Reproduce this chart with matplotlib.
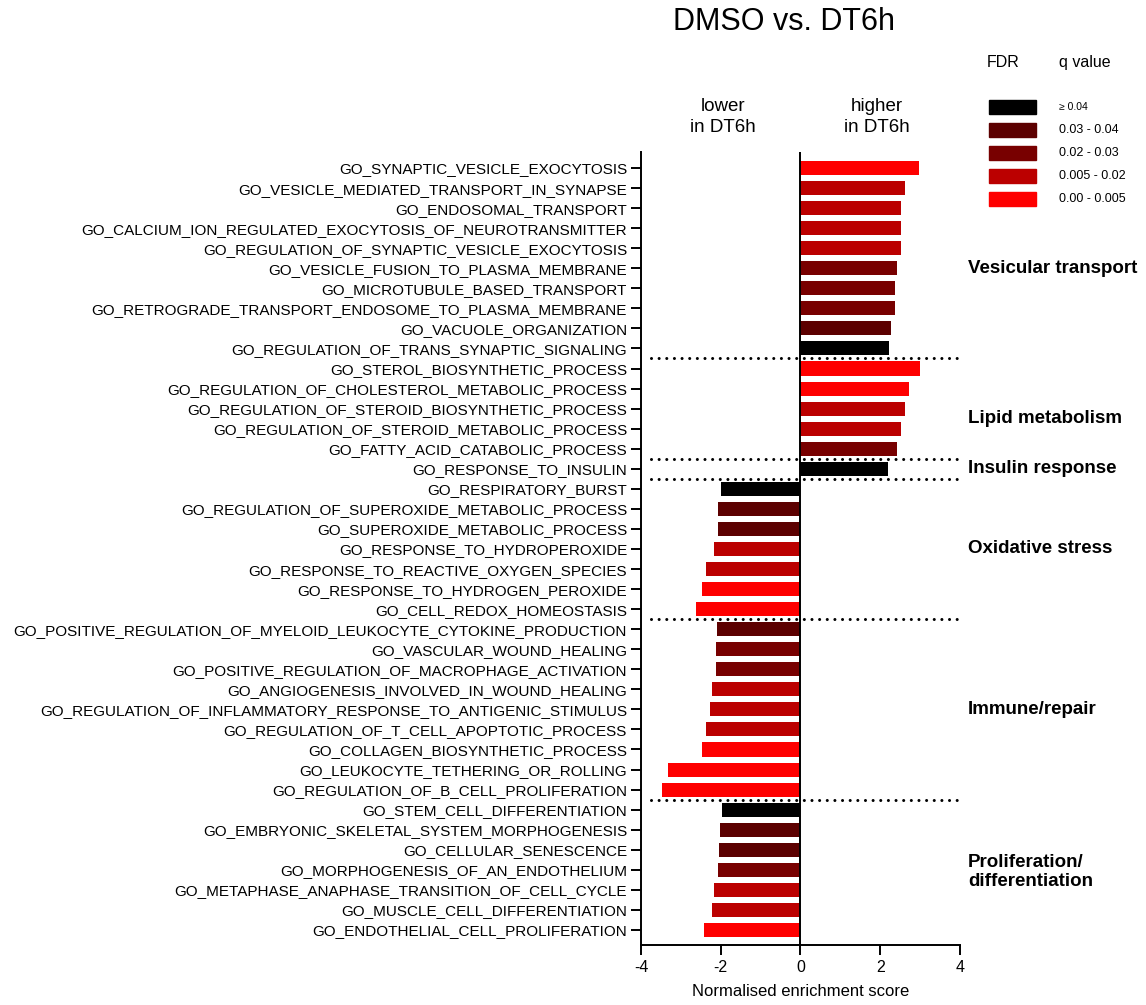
import matplotlib
matplotlib.use("Agg")
import matplotlib.pyplot as plt
from matplotlib.patches import Rectangle

plt.rcParams["font.family"] = ["Liberation Sans", "DejaVu Sans"]
plt.rcParams["axes.unicode_minus"] = False

terms = [
    "GO_SYNAPTIC_VESICLE_EXOCYTOSIS",
    "GO_VESICLE_MEDIATED_TRANSPORT_IN_SYNAPSE",
    "GO_ENDOSOMAL_TRANSPORT",
    "GO_CALCIUM_ION_REGULATED_EXOCYTOSIS_OF_NEUROTRANSMITTER",
    "GO_REGULATION_OF_SYNAPTIC_VESICLE_EXOCYTOSIS",
    "GO_VESICLE_FUSION_TO_PLASMA_MEMBRANE",
    "GO_MICROTUBULE_BASED_TRANSPORT",
    "GO_RETROGRADE_TRANSPORT_ENDOSOME_TO_PLASMA_MEMBRANE",
    "GO_VACUOLE_ORGANIZATION",
    "GO_REGULATION_OF_TRANS_SYNAPTIC_SIGNALING",
    "GO_STEROL_BIOSYNTHETIC_PROCESS",
    "GO_REGULATION_OF_CHOLESTEROL_METABOLIC_PROCESS",
    "GO_REGULATION_OF_STEROID_BIOSYNTHETIC_PROCESS",
    "GO_REGULATION_OF_STEROID_METABOLIC_PROCESS",
    "GO_FATTY_ACID_CATABOLIC_PROCESS",
    "GO_RESPONSE_TO_INSULIN",
    "GO_RESPIRATORY_BURST",
    "GO_REGULATION_OF_SUPEROXIDE_METABOLIC_PROCESS",
    "GO_SUPEROXIDE_METABOLIC_PROCESS",
    "GO_RESPONSE_TO_HYDROPEROXIDE",
    "GO_RESPONSE_TO_REACTIVE_OXYGEN_SPECIES",
    "GO_RESPONSE_TO_HYDROGEN_PEROXIDE",
    "GO_CELL_REDOX_HOMEOSTASIS",
    "GO_POSITIVE_REGULATION_OF_MYELOID_LEUKOCYTE_CYTOKINE_PRODUCTION",
    "GO_VASCULAR_WOUND_HEALING",
    "GO_POSITIVE_REGULATION_OF_MACROPHAGE_ACTIVATION",
    "GO_ANGIOGENESIS_INVOLVED_IN_WOUND_HEALING",
    "GO_REGULATION_OF_INFLAMMATORY_RESPONSE_TO_ANTIGENIC_STIMULUS",
    "GO_REGULATION_OF_T_CELL_APOPTOTIC_PROCESS",
    "GO_COLLAGEN_BIOSYNTHETIC_PROCESS",
    "GO_LEUKOCYTE_TETHERING_OR_ROLLING",
    "GO_REGULATION_OF_B_CELL_PROLIFERATION",
    "GO_STEM_CELL_DIFFERENTIATION",
    "GO_EMBRYONIC_SKELETAL_SYSTEM_MORPHOGENESIS",
    "GO_CELLULAR_SENESCENCE",
    "GO_MORPHOGENESIS_OF_AN_ENDOTHELIUM",
    "GO_METAPHASE_ANAPHASE_TRANSITION_OF_CELL_CYCLE",
    "GO_MUSCLE_CELL_DIFFERENTIATION",
    "GO_ENDOTHELIAL_CELL_PROLIFERATION",
]

nes = [2.98, 2.63, 2.53, 2.51, 2.51, 2.41, 2.38, 2.36, 2.28, 2.23,
       3.00, 2.71, 2.63, 2.53, 2.41, 2.20,
       -2.00, -2.06, -2.07, -2.18, -2.38, -2.48, -2.63,
       -2.10, -2.11, -2.13, -2.23, -2.26, -2.38, -2.46, -3.33, -3.48,
       -1.98, -2.03, -2.04, -2.08, -2.18, -2.23, -2.43]

# FDR class: 0 = >=0.04, 1 = 0.03-0.04, 2 = 0.02-0.03, 3 = 0.005-0.02, 4 = 0.00-0.005
fdr_class = [4, 3, 3, 3, 3, 2, 2, 2, 1, 0,
             4, 4, 3, 3, 2, 0,
             0, 1, 1, 3, 3, 4, 4,
             1, 2, 2, 3, 3, 3, 4, 4, 4,
             0, 1, 1, 2, 3, 3, 4]

legend_labels = ["\u2265 0.04", "0.03 - 0.04", "0.02 - 0.03", "0.005 - 0.02", "0.00 - 0.005"]
legend_colors = ["#000000", "#5c0000", "#780000", "#bb0000", "#fe0000"]

groups = ["Vesicular transport", "Lipid metabolism", "Insulin response",
          "Oxidative stress", "Immune/repair", "Proliferation/\ndifferentiation"]
group_sizes = [10, 5, 1, 7, 9, 7]
group_label_rows = [5.0, 12.5, 15.0, 19.0, 27.0, 35.1]

fig = plt.figure(figsize=(11.46, 10.05), dpi=100)
ax = fig.add_axes([0.5593, 0.0597, 0.2784, 0.7891])

y = list(range(len(terms)))
ax.barh(y, nes, height=0.7, color=[legend_colors[c] for c in fdr_class])
ax.set_ylim(len(terms) - 0.25, -0.8)
ax.set_xlim(-4, 4)
ax.set_yticks(y)
ax.set_yticklabels(terms, fontsize=11)
ax.set_xticks([-4, -2, 0, 2, 4])
ax.tick_params(axis="y", length=7, width=1.4, pad=3)
ax.tick_params(axis="x", length=7, width=1.4, labelsize=11.5, pad=4)
ax.spines["top"].set_visible(False)
ax.spines["right"].set_visible(False)
ax.spines["left"].set_linewidth(1.4)
ax.spines["bottom"].set_linewidth(1.4)
ax.axvline(0, color="black", lw=1.4)
ax.set_xlabel("Normalised enrichment score", fontsize=12, labelpad=6)

# group separators and labels
start = 0
for name, n, yl in zip(groups, group_sizes, group_label_rows):
    end = start + n
    if end < len(terms):
        ax.plot([-3.75, 3.95], [end - 0.5, end - 0.5], color="black", lw=2.2,
                linestyle=(0, (0.001, 2.5)), dash_capstyle="round", clip_on=False)
    ax.text(1.025, yl, name, transform=ax.get_yaxis_transform(),
            ha="left", va="center", fontsize=13.5, fontweight="bold")
    start = end

fig.text(0.684, 0.978, "DMSO vs. DT6h", ha="center", va="center", fontsize=22)
fig.text(0.631, 0.884, "lower\nin DT6h", ha="center", va="center", fontsize=13.5, linespacing=1.3)
fig.text(0.765, 0.884, "higher\nin DT6h", ha="center", va="center", fontsize=13.5, linespacing=1.3)

# legend
fig.text(0.875, 0.938, "FDR", ha="center", va="center", fontsize=11.5)
fig.text(0.947, 0.938, "q value", ha="center", va="center", fontsize=11.5)
for i, (lab, col) in enumerate(zip(legend_labels, legend_colors)):
    yc = 1 - (107 + i * 23) / 1005
    fig.patches.append(Rectangle((989 / 1146, yc - 7 / 1005), 47 / 1146, 14 / 1005,
                                 transform=fig.transFigure, color=col))
    fig.text(1059 / 1146, yc, lab, ha="left", va="center",
             fontsize=7.5 if i == 0 else 9)

fig.savefig("out.png", dpi=100)
